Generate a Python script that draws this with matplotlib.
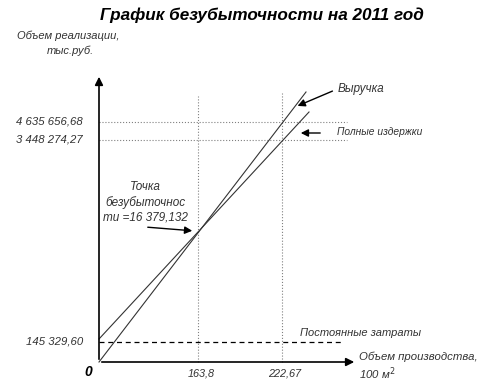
import matplotlib
matplotlib.use("Agg")
import matplotlib.pyplot as plt

plt.rcParams['font.family'] = ['Liberation Sans', 'DejaVu Sans']

# schematic chart units (not to scale, like the original drawing)
x_tick_pos = [99, 183]
x_tick_labels = ['163,8', '222,67']
y_tick_pos = [20, 222, 240]
y_tick_labels = ['145 329,60', '3 448 274,27', '4 635 656,68']

revenue_x = [0, 207]
revenue_y = [0, 270]
costs_x = [0, 210]
costs_y = [23, 250]
fixed_x = [0, 245]
fixed_y = [20, 20]

bep_label = 'Точка\nбезубыточнос\nти =16 379,132'

fig = plt.figure(figsize=(5.04, 3.85), dpi=100)
ax = fig.add_axes([0, 0, 1, 1])
ax.set_xlim(-99, 405)
ax.set_ylim(-23, 362)
ax.axis('off')

txt = dict(fontstyle='italic', color='#333333', va='center')

# axes with arrows
ax.annotate('', xy=(258, 0), xytext=(0, 0),
            arrowprops=dict(arrowstyle='-|>', color='black', lw=1.2, mutation_scale=12))
ax.annotate('', xy=(0, 288), xytext=(0, 0),
            arrowprops=dict(arrowstyle='-|>', color='black', lw=1.2, mutation_scale=12))

# dotted guide lines
tops = [266, 269]
for xp, top in zip(x_tick_pos, tops):
    ax.plot([xp, xp], [0, top], color='grey', lw=0.8, ls=':')
for yp in y_tick_pos[1:]:
    ax.plot([0, 248], [yp, yp], color='grey', lw=0.8, ls=':')

ax.plot(fixed_x, fixed_y, color='black', lw=0.9, ls=(0, (4, 3)))
ax.plot(revenue_x, revenue_y, color='#333333', lw=0.8)
ax.plot(costs_x, costs_y, color='#333333', lw=0.8)

# labels
fig.text(0.52, 0.96, 'График безубыточности на 2011 год', ha='center', va='center',
         fontsize=12.3, fontweight='bold', fontstyle='italic')
ax.text(-82, 326, 'Объем реализации,', fontsize=8, **txt)
ax.text(-52, 311, 'тыс.руб.', fontsize=8, **txt)

for yp, lab in zip(y_tick_pos, y_tick_labels):
    ax.text(-16, yp + 1, lab, ha='right', fontsize=8.2, **txt)
for xp, lab in zip(x_tick_pos, x_tick_labels):
    ax.text(xp + 3, -12, lab, ha='center', fontsize=7.8, **txt)
ax.text(-11, -10, '0', ha='center', va='center', fontsize=10, fontweight='bold', fontstyle='italic')

ax.text(260, 5, 'Объем производства,', fontsize=8.2, **txt)
ax.text(260, -12, '100 м$^2$', fontsize=8.2, **txt)
ax.text(201, 29, 'Постоянные затраты', fontsize=8, **txt)

ax.text(239, 273, 'Выручка', fontsize=8.5, **txt)
ax.annotate('', xy=(196, 255), xytext=(236, 272),
            arrowprops=dict(arrowstyle='-|>', color='black', lw=1.0, mutation_scale=11))
ax.text(238, 230, 'Полные издержки', fontsize=7.4, **txt)
ax.annotate('', xy=(199, 229), xytext=(224, 229),
            arrowprops=dict(arrowstyle='-|>', color='black', lw=1.0, mutation_scale=11))

ax.text(46, 160, bep_label, ha='center', fontsize=8.5, linespacing=1.3,
        **{k: v for k, v in txt.items() if k != 'va'}, va='center')
ax.annotate('', xy=(96, 131), xytext=(46, 135),
            arrowprops=dict(arrowstyle='-|>', color='black', lw=1.0, mutation_scale=11))

fig.savefig('out.png', dpi=100)
